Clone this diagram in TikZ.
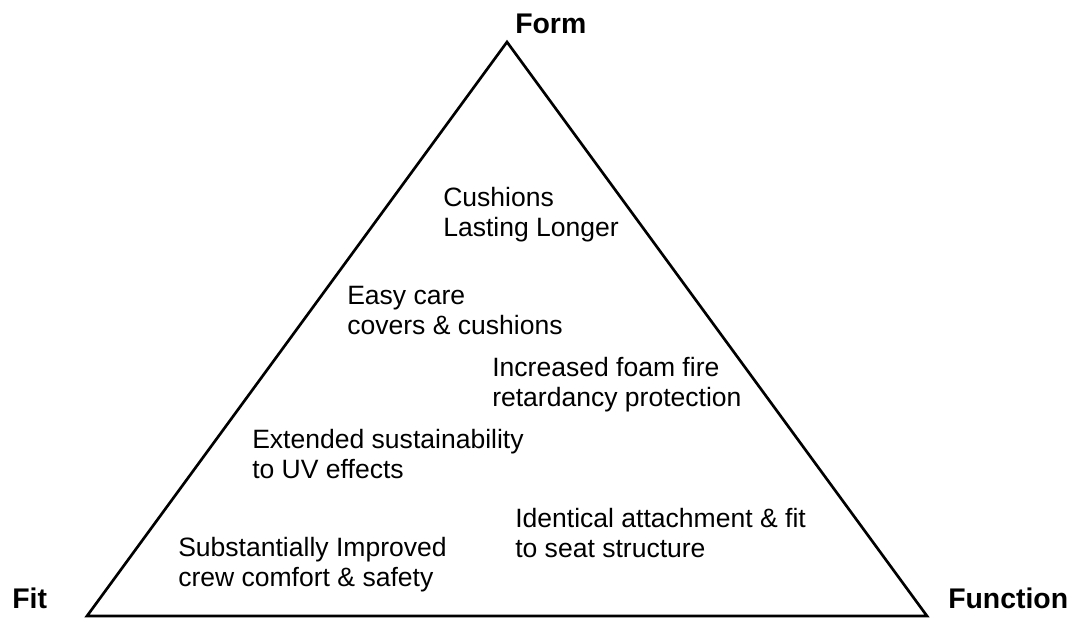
\documentclass[tikz,border=0pt]{standalone}
\usepackage{fontspec}
\setmainfont{Liberation Sans}
\begin{document}
\begin{tikzpicture}[x=0.75pt,y=-0.75pt,
  edge/.style={line width=2pt,line join=miter},
  corner/.style={font=\fontsize{21.3}{24}\selectfont\bfseries,inner sep=0pt,anchor=base west},
  % multi-line items are placed by the baseline of their last line
  item/.style={font=\fontsize{19.9}{22.3}\selectfont,align=left,inner sep=0pt,anchor=base west}]
  \useasboundingbox (0,0) rectangle (1076,618);
  % the triangle
  \coordinate (top) at (507,42);
  \coordinate (bl) at (87,616);
  \coordinate (br) at (927,616);
  \draw[edge] (top) -- (bl) -- (br) -- cycle;
  % corner labels
  \node[corner] (form) at (515,33) {Form};
  \node[corner] (fit) at (12,608) {Fit};
  \node[corner] (function) at (948,608) {Function};
  % attributes inside
  \node[item] (cushions) at (443,236) {Cushions\\Lasting Longer};
  \node[item] (easy) at (347,334) {Easy care\\covers \& cushions};
  \node[item] (foam) at (492,406) {Increased foam fire\\retardancy protection};
  \node[item] (uv) at (252,478) {Extended sustainability\\to UV effects};
  \node[item] (attach) at (515,557) {Identical attachment \& fit\\to seat structure};
  \node[item] (comfort) at (178,586) {Substantially Improved\\crew comfort \& safety};
\end{tikzpicture}
\end{document}
